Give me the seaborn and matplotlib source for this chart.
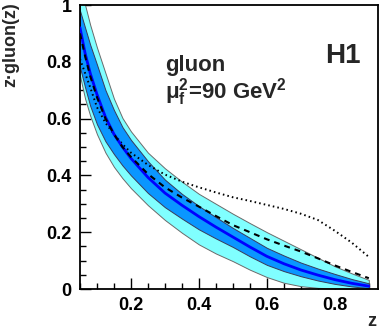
import matplotlib
matplotlib.use("Agg")
import matplotlib.pyplot as plt
import seaborn as sns
import pandas as pd
from matplotlib.ticker import MultipleLocator

# ---- data ----
z = [0.05, 0.065, 0.08, 0.1, 0.125, 0.15, 0.175, 0.2, 0.25, 0.3, 0.35, 0.4,
     0.45, 0.5, 0.55, 0.6, 0.65, 0.7, 0.75, 0.8, 0.85, 0.9]
central = [0.92, 0.83, 0.76, 0.685, 0.605, 0.545, 0.50, 0.46, 0.393, 0.338,
           0.295, 0.255, 0.218, 0.183, 0.148, 0.115, 0.089, 0.067, 0.049,
           0.033, 0.02, 0.01]
dashed = [0.90, 0.82, 0.75, 0.675, 0.60, 0.545, 0.50, 0.465, 0.405, 0.358,
          0.322, 0.29, 0.257, 0.225, 0.2, 0.175, 0.153, 0.132, 0.108, 0.083,
          0.06, 0.038]
dotted = [0.81, 0.76, 0.71, 0.64, 0.585, 0.545, 0.51, 0.48, 0.437, 0.403,
          0.378, 0.358, 0.34, 0.323, 0.31, 0.296, 0.282, 0.265, 0.243, 0.205,
          0.163, 0.113]
outer_hi = [1.05, 1.0, 0.93, 0.85, 0.76, 0.67, 0.602, 0.555, 0.48, 0.425,
            0.378, 0.335, 0.3, 0.265, 0.232, 0.2, 0.17, 0.14, 0.11, 0.08,
            0.055, 0.032]
outer_lo = [0.75, 0.67, 0.61, 0.545, 0.48, 0.43, 0.39, 0.355, 0.295, 0.243,
            0.198, 0.157, 0.125, 0.098, 0.068, 0.042, 0.022, 0.01, 0.004,
            0.002, 0.001, 0.0]
inner_hi = [0.98, 0.92, 0.86, 0.79, 0.70, 0.63, 0.57, 0.525, 0.45, 0.385,
            0.335, 0.292, 0.253, 0.215, 0.18, 0.145, 0.118, 0.093, 0.072,
            0.053, 0.035, 0.02]
inner_lo = [0.78, 0.71, 0.645, 0.58, 0.52, 0.475, 0.435, 0.40, 0.338, 0.288,
            0.248, 0.21, 0.178, 0.148, 0.115, 0.085, 0.063, 0.045, 0.03,
            0.018, 0.009, 0.003]
xticks = [0.2, 0.4, 0.6, 0.8]
xticklabels = ["0.2", "0.4", "0.6", "0.8"]
yticks = [0, 0.2, 0.4, 0.6, 0.8, 1.0]
yticklabels = ["0", "0.2", "0.4", "0.6", "0.8", "1"]

df = pd.DataFrame({"z": z, "central": central, "dashed": dashed,
                   "dotted": dotted})

sns.set_theme(style="ticks")
plt.rcParams["font.family"] = ["Liberation Sans", "DejaVu Sans"]
plt.rcParams["font.weight"] = "bold"
plt.rcParams["mathtext.fontset"] = "custom"
plt.rcParams["mathtext.rm"] = "Liberation Sans:bold"
plt.rcParams["mathtext.bf"] = "Liberation Sans:bold"
plt.rcParams["mathtext.it"] = "Liberation Sans:bold"

fig = plt.figure(figsize=(3.82, 3.31), dpi=100)
ax = fig.add_axes([80 / 382, 1 - 289 / 331, 298 / 382, 284 / 331])

ax.fill_between(z, outer_lo, outer_hi, facecolor="#80ffff",
                edgecolor="#6a6a6a", linewidth=0.7, zorder=1)
ax.fill_between(z, inner_lo, inner_hi, facecolor="#0a96ff",
                edgecolor="#3a3a5a", linewidth=0.7, zorder=2)

sns.lineplot(data=df, x="z", y="dotted", ax=ax, color="black", lw=1.4,
             linestyle=(0, (0.8, 1.6)), zorder=3)
sns.lineplot(data=df, x="z", y="central", ax=ax, color="#0000ff", lw=2.0,
             zorder=4)
sns.lineplot(data=df, x="z", y="dashed", ax=ax, color="black", lw=1.5,
             linestyle=(0, (2.8, 2.4)), zorder=5)

ax.set_xlim(0.05, 0.927)
ax.set_ylim(0, 1)
ax.set_xlabel("")
ax.set_ylabel("")
ax.set_xticks(xticks)
ax.set_xticklabels(xticklabels, fontsize=13, fontweight="bold")
ax.set_yticks(yticks)
ax.set_yticklabels(yticklabels, fontsize=13, fontweight="bold")
ax.xaxis.set_minor_locator(MultipleLocator(0.05))
ax.yaxis.set_minor_locator(MultipleLocator(0.05))
ax.tick_params(which="both", direction="in", top=False, right=False,
               width=1.0, colors="black")
ax.tick_params(which="major", length=8)
ax.tick_params(which="minor", length=4)
ax.tick_params(axis="y", pad=6)
ax.tick_params(axis="x", pad=6)
for s in ax.spines.values():
    s.set_visible(True)
    s.set_linewidth(1.3)
    s.set_color("black")
ax.set_facecolor("white")

fig.text(11 / 382, 1 - 2 / 331, "z·gluon(z)", rotation=90, ha="center",
         va="top", fontsize=13, fontweight="bold")
fig.text(372 / 382, 1 - 326 / 331, "z", ha="center", va="baseline",
         fontsize=13, fontweight="bold")
fig.text(165 / 382, 1 - 71 / 331, "gluon", ha="left", va="baseline",
         fontsize=16, fontweight="bold")
fig.text(165 / 382, 1 - 98 / 331,
         r"μ$_{\mathbf{f}}^{\mathbf{2}}$=90 GeV$^{\mathbf{2}}$",
         ha="left", va="baseline", fontsize=16, fontweight="bold")
fig.text(361 / 382, 1 - 63 / 331, "H1", ha="right", va="baseline",
         fontsize=20, fontweight="bold")

fig.savefig("out.png", dpi=100, facecolor="white")
